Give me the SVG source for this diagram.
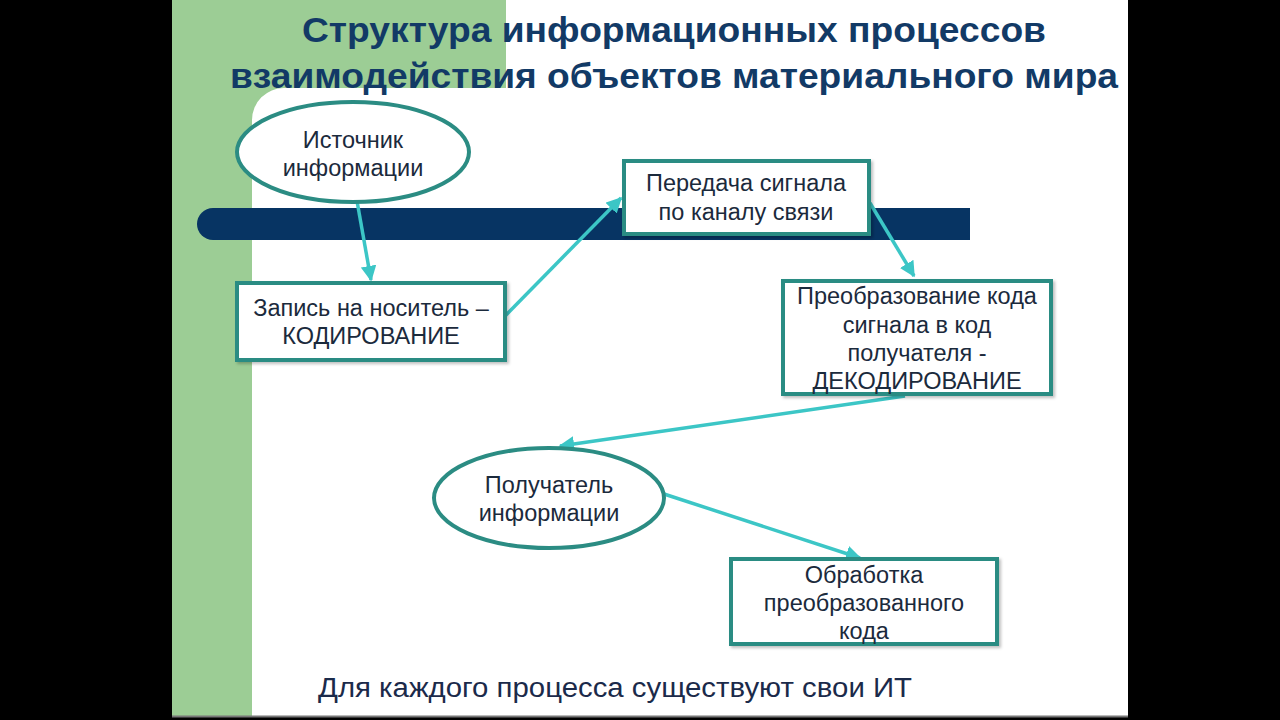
<svg xmlns="http://www.w3.org/2000/svg" width="1280" height="720" viewBox="0 0 1280 720">
<style>
.node{fill:#fff;stroke:#2b8c83;stroke-width:4}
.t{font-family:"Liberation Sans",Arial,sans-serif;font-size:23.5px;fill:#1b2a3c;text-anchor:middle}
.title{font-family:"Liberation Sans",Arial,sans-serif;font-size:35px;font-weight:bold;fill:#123a66;text-anchor:middle}
.conn{stroke:#3cc6c6;stroke-width:3.5;fill:none;marker-end:url(#ah)}
</style>
<defs>
<marker id="ah" viewBox="0 0 10 10" refX="9" refY="5" markerWidth="4.5" markerHeight="4.5" orient="auto" markerUnits="strokeWidth">
<path d="M0,0 L10,5 L0,10 z" fill="#3cc6c6"/>
</marker>
<filter id="sh" x="-10%" y="-10%" width="125%" height="130%">
<feDropShadow dx="2" dy="2" stdDeviation="1.5" flood-color="#000" flood-opacity="0.25"/>
</filter>
</defs>
<rect x="0" y="0" width="1280" height="720" fill="#000"/>
<rect x="172" y="0" width="956" height="716" fill="#fff"/>
<path d="M172,0 H506 V88 H284 A32,32 0 0 0 252,120 V716 H172 Z" fill="#9ccd95"/>
<line x1="172" y1="716.5" x2="1128" y2="716.5" stroke="#777" stroke-width="2"/>
<g id="title">
<text class="title" x="674" y="42" textLength="744" lengthAdjust="spacingAndGlyphs">Структура информационных процессов</text>
<text class="title" x="674" y="88" textLength="888" lengthAdjust="spacingAndGlyphs">взаимодействия объектов материального мира</text>
</g>
<g id="bar">
<path d="M213,208 H970 V240 H213 A16,16 0 0 1 213,208 Z" fill="#073463"/>
</g>
<g id="connectors">
<line class="conn" x1="357" y1="201" x2="371" y2="280"/>
<line class="conn" x1="503" y1="318" x2="621" y2="198"/>
<line class="conn" x1="870" y1="203" x2="914" y2="276"/>
<line class="conn" x1="905" y1="396" x2="560" y2="446"/>
<line class="conn" x1="664" y1="494" x2="860" y2="558"/>
</g>
<g id="source">
<ellipse class="node" cx="353" cy="152" rx="116" ry="50"/>
<text class="t" x="353" y="148">Источник</text>
<text class="t" x="353" y="176">информации</text>
</g>
<g id="encode">
<rect class="node" x="237" y="283" width="268" height="77" filter="url(#sh)"/>
<text class="t" x="371" y="316">Запись на носитель –</text>
<text class="t" x="371" y="344">КОДИРОВАНИЕ</text>
</g>
<g id="transmit">
<rect class="node" x="624" y="161" width="245" height="73" filter="url(#sh)"/>
<text class="t" x="746" y="191">Передача сигнала</text>
<text class="t" x="746" y="220">по каналу связи</text>
</g>
<g id="decode">
<rect class="node" x="783" y="281" width="268" height="113" filter="url(#sh)"/>
<text class="t" x="917" y="304">Преобразование кода</text>
<text class="t" x="917" y="333">сигнала в код</text>
<text class="t" x="917" y="361">получателя -</text>
<text class="t" x="917" y="389">ДЕКОДИРОВАНИЕ</text>
</g>
<g id="receiver">
<ellipse class="node" cx="549" cy="498" rx="115" ry="50"/>
<text class="t" x="549" y="493">Получатель</text>
<text class="t" x="549" y="521">информации</text>
</g>
<g id="process">
<rect class="node" x="731" y="559" width="266" height="85" filter="url(#sh)"/>
<text class="t" x="864" y="583">Обработка</text>
<text class="t" x="864" y="611">преобразованного</text>
<text class="t" x="864" y="639">кода</text>
</g>
<g id="footer">
<text x="318" y="697" font-family="'Liberation Sans',Arial,sans-serif" font-size="27" fill="#1b2a4a" textLength="594" lengthAdjust="spacingAndGlyphs">Для каждого процесса существуют свои ИТ</text>
</g>
</svg>
